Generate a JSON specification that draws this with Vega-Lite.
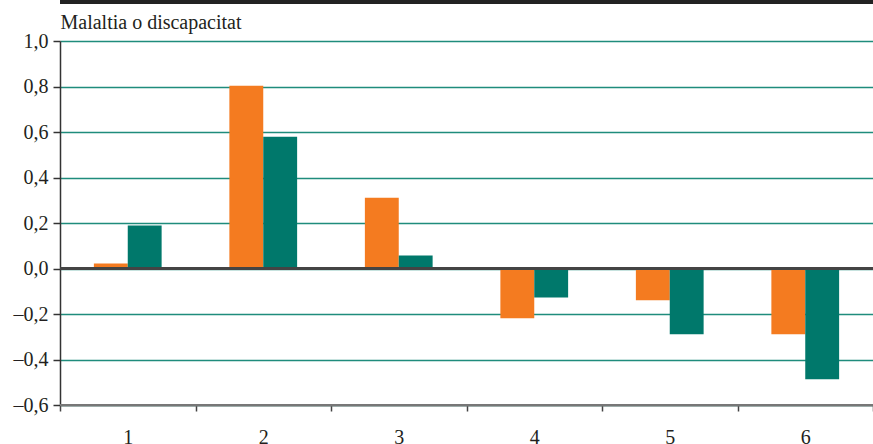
{
  "$schema": "https://vega.github.io/schema/vega-lite/v6.json",
  "width": 813,
  "height": 364,
  "autosize": "none",
  "padding": {"left": 60, "top": 41, "right": 0, "bottom": 39},
  "background": "white",
  "config": {
    "view": {"stroke": null},
    "font": "Liberation Serif, Times New Roman, serif",
    "axis": {"labelFont": "Liberation Serif, Times New Roman, serif", "titleFont": "Liberation Serif, Times New Roman, serif"}
  },
  "data": {
    "values": [
      {"cat": "1", "serie": "A", "v": 0.022},
      {"cat": "1", "serie": "B", "v": 0.189},
      {"cat": "2", "serie": "A", "v": 0.803},
      {"cat": "2", "serie": "B", "v": 0.579},
      {"cat": "3", "serie": "A", "v": 0.311},
      {"cat": "3", "serie": "B", "v": 0.057},
      {"cat": "4", "serie": "A", "v": -0.219},
      {"cat": "4", "serie": "B", "v": -0.127},
      {"cat": "5", "serie": "A", "v": -0.14},
      {"cat": "5", "serie": "B", "v": -0.289},
      {"cat": "6", "serie": "A", "v": -0.289},
      {"cat": "6", "serie": "B", "v": -0.487}
    ]
  },
  "layer": [
    {
      "mark": {"type": "bar"},
      "encoding": {
        "x": {
          "field": "cat", "type": "nominal",
          "scale": {"paddingInner": 0, "paddingOuter": 0},
          "axis": {
            "title": null,
            "labelAngle": 0,
            "labelFont": "Liberation Serif",
            "labelFontSize": 20,
            "labelColor": "#231f20",
            "labelBaseline": "top",
            "labelPadding": 16,
            "domainColor": "#777777",
            "domainWidth": 2,
            "tickBand": "extent",
            "tickColor": "#444444",
            "tickWidth": 1.5,
            "tickSize": 6
          }
        },
        "xOffset": {"field": "serie", "type": "nominal", "scale": {"paddingInner": 0, "paddingOuter": 1.117}},
        "y": {
          "field": "v", "type": "quantitative",
          "scale": {"domain": [-0.6, 1.0], "nice": false, "zero": false},
          "axis": {
            "values": [-0.6, -0.4, -0.2, 0, 0.2, 0.4, 0.6, 0.8, 1.0],
            "labelExpr": "(datum.value < -0.0001 ? '–' : '') + replace(format(abs(datum.value), '.1f'), '.', ',')",
            "labelFont": "Liberation Serif",
            "labelFontSize": 20,
            "labelColor": "#231f20",
            "labelPadding": 5,
            "tickColor": "#333333",
            "tickWidth": 1.5,
            "tickSize": 7,
            "domainColor": "#333333",
            "domainWidth": 1.5,
            "grid": true,
            "gridColor": "#1f8c7c",
            "gridWidth": 1.3,
            "title": "Malaltia o discapacitat",
            "titleFont": "Liberation Serif",
            "titleAngle": 0,
            "titleAlign": "left",
            "titleBaseline": "alphabetic",
            "titleX": 0,
            "titleY": -13,
            "titleFontSize": 20,
            "titleFontWeight": "normal",
            "titleColor": "#231f20"
          }
        },
        "color": {
          "field": "serie", "type": "nominal",
          "scale": {"domain": ["A", "B"], "range": ["#f47b20", "#00786b"]},
          "legend": null
        }
      }
    },
    {
      "mark": {"type": "rule", "color": "#222222", "strokeWidth": 4},
      "encoding": {"y": {"datum": 1.172}}
    },
    {
      "mark": {"type": "rule", "color": "#444444", "strokeWidth": 2},
      "encoding": {"y": {"datum": 0}}
    },
    {
      "mark": {"type": "rule", "color": "#777777", "strokeWidth": 2},
      "encoding": {"y": {"datum": -0.6}}
    }
  ]
}
